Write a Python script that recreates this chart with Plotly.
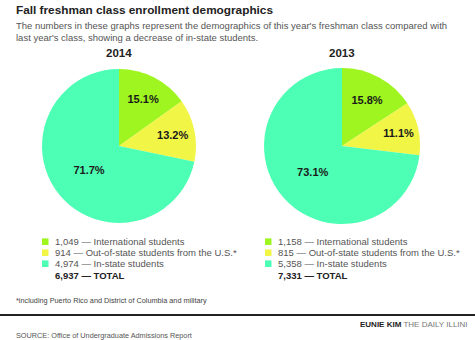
import plotly.graph_objects as go

W, H = 475, 340

# ---- data ----
years = ["2014", "2013"]
categories = ["International students", "Out-of-state students from the U.S.*", "In-state students"]
counts_2014 = [1049, 914, 4974]
counts_2013 = [1158, 815, 5358]
colors = ["#9ef51f", "#f0f546", "#4dffb4"]

title = "Fall freshman class enrollment demographics"
subtitle = ["The numbers in these graphs represent the demographics of this year's freshman class compared with",
            "last year's class, showing a decrease of in-state students."]
footnote = "*including Puerto Rico and District of Columbia and military"
source = "SOURCE: Office of Undergraduate Admissions Report"
credit_name = "EUNIE KIM"
credit_paper = "THE DAILY ILLINI"

FONT = "Liberation Sans, Arial, Helvetica, sans-serif"

def py(y):
    return 1 - y / H

def px(x):
    return x / W

fig = go.Figure()

pies = [
    dict(year=years[0], counts=counts_2014, cx=119, cy=146, r=77, legx=42),
    dict(year=years[1], counts=counts_2013, cx=342, cy=146, r=78, legx=265),
]

annotations = []
shapes = []

for p in pies:
    fig.add_trace(go.Pie(
        labels=categories,
        values=p["counts"],
        sort=False,
        direction="clockwise",
        rotation=0,
        marker=dict(colors=colors, line=dict(width=0)),
        textinfo="percent",
        texttemplate="%{percent:.1%}",
        textposition="inside",
        insidetextorientation="horizontal",
        textfont=dict(family=FONT, size=11, color="#1a1a1a", weight="bold"),
        domain=dict(x=[px(p["cx"] - p["r"]), px(p["cx"] + p["r"])],
                    y=[py(p["cy"] + p["r"]), py(p["cy"] - p["r"])]),
        showlegend=False,
        hoverinfo="label+value+percent",
    ))
    # year header
    annotations.append(dict(x=px(p["cx"]), y=py(53), xref="paper", yref="paper",
                            text="<b>%s</b>" % p["year"], showarrow=False,
                            xanchor="center", yanchor="middle",
                            font=dict(family=FONT, size=11.5, color="#222")))
    # legend
    rows = [241.7, 252.7, 263.7]
    for i, (cat, val, col) in enumerate(zip(categories, p["counts"], colors)):
        shapes.append(dict(type="rect", xref="paper", yref="paper",
                           x0=px(p["legx"]), x1=px(p["legx"] + 6.5),
                           y0=py(rows[i] + 3.3), y1=py(rows[i] - 3.3),
                           fillcolor=col, line=dict(width=0)))
        annotations.append(dict(x=px(p["legx"] + 11), y=py(rows[i]), xref="paper", yref="paper",
                                text="{:,} \u2014 {}".format(val, cat), showarrow=False,
                                xanchor="left", yanchor="middle",
                                font=dict(family=FONT, size=9.5, color="#555")))
    total = sum(p["counts"])
    annotations.append(dict(x=px(p["legx"] + 11), y=py(275), xref="paper", yref="paper",
                            text="<b>{:,} \u2014 TOTAL</b>".format(total), showarrow=False,
                            xanchor="left", yanchor="middle",
                            font=dict(family=FONT, size=9.5, color="#222")))

# title & subtitle
annotations.append(dict(x=px(14), y=py(10), xref="paper", yref="paper",
                        text="<b>%s</b>" % title, showarrow=False,
                        xanchor="left", yanchor="middle",
                        font=dict(family=FONT, size=11.8, color="#222")))
for i, line in enumerate(subtitle):
    annotations.append(dict(x=px(14), y=py(25.5 + 12 * i), xref="paper", yref="paper",
                            text=line, showarrow=False, xanchor="left", yanchor="middle",
                            font=dict(family=FONT, size=9.5, color="#555")))

annotations.append(dict(x=px(14), y=py(300), xref="paper", yref="paper",
                        text=footnote, showarrow=False, xanchor="left", yanchor="middle",
                        font=dict(family=FONT, size=7.3, color="#444")))
annotations.append(dict(x=px(14), y=py(335), xref="paper", yref="paper",
                        text=source, showarrow=False, xanchor="left", yanchor="middle",
                        font=dict(family=FONT, size=7.3, color="#555")))
annotations.append(dict(x=px(470), y=py(324), xref="paper", yref="paper",
                        text="<b>%s</b> <span style='color:#777'>%s</span>" % (credit_name, credit_paper),
                        showarrow=False, xanchor="right", yanchor="middle",
                        font=dict(family=FONT, size=8, color="#222")))

shapes.append(dict(type="line", xref="paper", yref="paper", x0=0, x1=1,
                   y0=py(315), y1=py(315), line=dict(color="#222", width=2)))

fig.update_layout(
    width=W, height=H,
    margin=dict(l=0, r=0, t=0, b=0),
    paper_bgcolor="white", plot_bgcolor="white",
    annotations=annotations, shapes=shapes,
    showlegend=False,
)

fig.write_html("out.html", config={"displayModeBar": False})
